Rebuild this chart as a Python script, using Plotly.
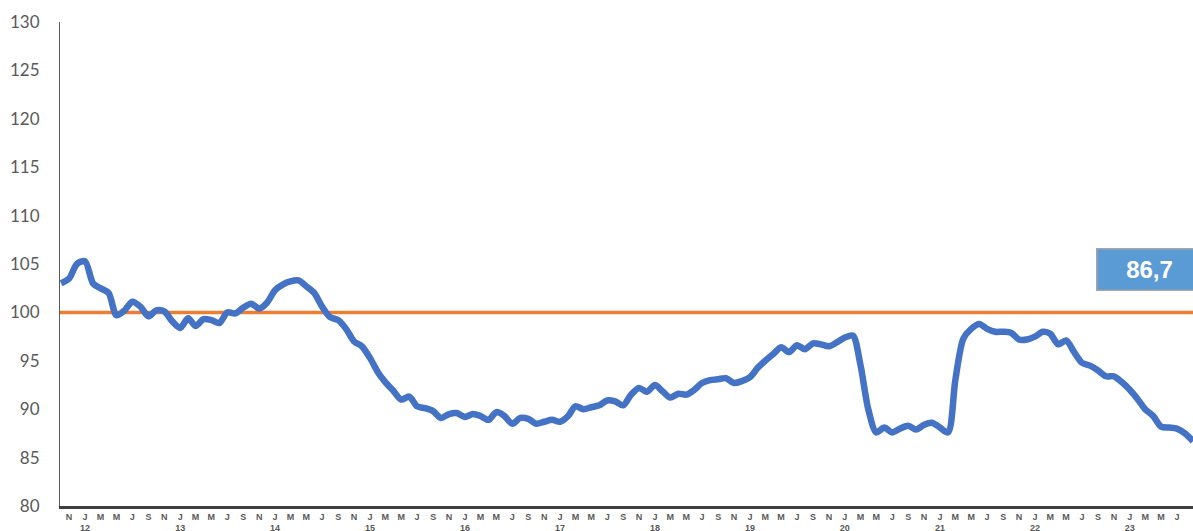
import plotly.graph_objects as go
import pandas as pd

# Monthly index values, Oct 2011 .. Sep 2023
dates = pd.date_range("2011-10-01", "2023-09-01", freq="MS")
values = [
    103.0, 103.5, 105.0, 105.3, 103.0, 102.5, 102.0, 99.7, 100.2, 101.1,
    100.6, 99.6, 100.2, 100.1, 99.1, 98.4, 99.4, 98.6, 99.3, 99.2,
    98.9, 100.0, 99.9, 100.5, 100.9, 100.4, 101.0, 102.3, 102.9, 103.2,
    103.3, 102.7, 102.0, 100.6, 99.5, 99.2, 98.3, 97.0, 96.5, 95.3,
    93.8, 92.8, 91.9, 91.0, 91.3, 90.3, 90.1, 89.8, 89.1, 89.5,
    89.6, 89.2, 89.5, 89.3, 88.9, 89.7, 89.3, 88.5, 89.1, 89.0,
    88.5, 88.7, 88.9, 88.7, 89.3, 90.3, 90.0, 90.2, 90.4, 90.9,
    90.8, 90.4, 91.5, 92.2, 91.8, 92.5, 91.8, 91.2, 91.6, 91.5,
    92.0, 92.7, 93.0, 93.1, 93.2, 92.7, 92.9, 93.3, 94.3, 95.0,
    95.7, 96.4, 95.9, 96.6, 96.2, 96.8, 96.7, 96.5, 96.9, 97.4,
    97.6, 94.6, 89.9, 87.6, 88.1, 87.6, 88.0, 88.3, 87.9, 88.4,
    88.6, 88.1, 87.6, 93.0, 97.3, 98.3, 98.8, 98.3, 98.0, 98.0,
    97.9, 97.2, 97.2, 97.5, 98.0, 97.8, 96.7, 97.1, 95.9, 94.8,
    94.5, 94.0, 93.4, 93.4, 92.8, 92.0, 91.0, 90.0, 89.3, 88.2,
    88.1, 88.0, 87.5, 86.7,
]
reference_level = 100
last_label = "86,7"

month_letters = {1: "J", 3: "M", 5: "M", 7: "J", 9: "S", 11: "N"}
tick_dates = [d for d in dates if d.month % 2 == 1]
tick_text = [
    month_letters[d.month] + ("<br>" + d.strftime("%y") if d.month == 1 else "")
    for d in tick_dates
]

fig = go.Figure()
fig.add_trace(go.Scatter(
    x=[dates[0] - pd.Timedelta(days=5), dates[-1] + pd.Timedelta(days=40)],
    y=[reference_level, reference_level],
    mode="lines", line=dict(color="#ED7D31", width=3.5),
    hoverinfo="skip", showlegend=False,
))
fig.add_trace(go.Scatter(
    x=dates, y=values, mode="lines",
    line=dict(color="#4472C4", width=6.5, shape="spline", smoothing=0.8),
    showlegend=False,
))

fig.add_annotation(
    x=0.9144, xref="paper", xanchor="left",
    y=104.4, yref="y", yanchor="middle",
    text="<b>" + last_label + "</b>", showarrow=False,
    font=dict(color="white", size=24, family="Liberation Sans"),
    bgcolor="#5B9BD5", bordercolor="#A5A5A5", borderwidth=1.5,
    width=100, height=36, borderpad=2,
)

fig.update_layout(
    width=1193, height=531,
    margin=dict(l=60, r=0, t=22, b=25),
    paper_bgcolor="white", plot_bgcolor="white",
    xaxis=dict(
        type="date",
        range=[dates[0] - pd.Timedelta(days=4), dates[-1]],
        tickvals=tick_dates, ticktext=tick_text,
        tickfont=dict(size=9, color="#595959", family="Liberation Sans", weight="bold"),
        showgrid=False, zeroline=False,
        showline=True, linecolor="#3F3F3F", linewidth=2.5,
        ticks="", tickangle=0, ticklabelstandoff=0,
        automargin=False,
    ),
    yaxis=dict(
        range=[80, 130], dtick=5,
        tickfont=dict(size=17, color="#595959", family="Lato"),
        showgrid=False, zeroline=False,
        showline=True, linecolor="#595959", linewidth=1.2,
        ticks="", ticklabelstandoff=16,
        automargin=False,
    ),
)

fig.write_html(
    "out.html",
    config={"displayModeBar": False},
    post_script="document.body.style.margin='0';document.body.style.overflow='hidden';",
)
